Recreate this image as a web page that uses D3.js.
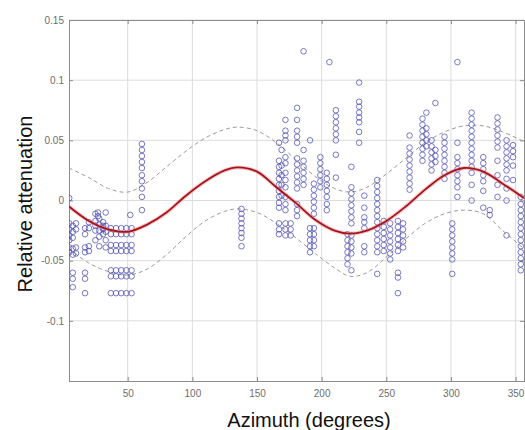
<!DOCTYPE html>
<html>
<head>
<meta charset="utf-8">
<script src="https://cdn.jsdelivr.net/npm/d3@7"></script>
<style>
  body { margin: 0; background: #fff; }
  svg { display: block; font-family: "Liberation Sans", Arial, sans-serif; }
</style>
</head>
<body>
<div id="chart-area"></div>
<script>
// Tick values and labels
const xTicks = [50, 100, 150, 200, 250, 300, 350];
const yTicks = [0.15, 0.1, 0.05, 0, -0.05, -0.1];
const yTickLabels = ['0.15', '0.1', '0.05', '0', '-0.05', '-0.1'];

// Measured points, stacked by azimuth column
const pointAz = [4.8, 7.5, 10, 17, 20, 25, 27, 28, 31, 33, 37, 41, 45, 49, 52, 53, 61,
  138, 167, 169, 172, 176, 181, 186, 191, 194, 199, 204, 206, 211, 220,
  223, 229, 233, 243, 248, 253, 259, 263, 268, 278, 281, 285, 288, 295, 301, 305,
  316, 325, 330, 336, 343, 348, 354];
const pointVals = [
  [0.002, -0.019, -0.024, -0.029, -0.033, -0.039, -0.043],
  [-0.021, -0.026, -0.031, -0.040, -0.045, -0.060, -0.065, -0.072],
  [-0.019, -0.024, -0.039, -0.044],
  [-0.023, -0.028, -0.039, -0.043, -0.060, -0.065, -0.077],
  [-0.018, -0.023, -0.038, -0.042],
  [-0.011, -0.017, -0.021, -0.025, -0.033],
  [-0.010, -0.013],
  [-0.015, -0.020, -0.025, -0.030, -0.038],
  [-0.018, -0.021, -0.023, -0.024, -0.028],
  [-0.010, -0.021, -0.026, -0.033, -0.039],
  [-0.023, -0.028, -0.037, -0.042, -0.058, -0.063, -0.077],
  [-0.023, -0.028, -0.037, -0.042, -0.058, -0.063, -0.077],
  [-0.023, -0.028, -0.037, -0.042, -0.058, -0.063, -0.077],
  [-0.023, -0.028, -0.037, -0.042, -0.058, -0.063, -0.077],
  [-0.012],
  [-0.023, -0.028, -0.037, -0.042, -0.058, -0.063, -0.077],
  [0.047, 0.042, 0.037, 0.032, 0.027, 0.021, 0.016, 0.010, 0.003, -0.008],
  [-0.007, -0.011, -0.015, -0.019, -0.023, -0.027, -0.031, -0.038],
  [0.048, 0.033, 0.028, 0.023, 0.018, 0.013, 0.008, 0.003, -0.002, -0.006, -0.019, -0.024, -0.028],
  [0.042, 0.029, 0.021, 0.013, 0.004],
  [0.067, 0.058, 0.054, 0.050, 0.036, 0.031, 0.023, 0.017, 0.011, 0.003, -0.003, -0.008, -0.019, -0.024, -0.029],
  [-0.019, -0.024, -0.029],
  [0.077, 0.067, 0.058, 0.053, 0.048, 0.035, 0.030, 0.025, 0.020, 0.015, 0.010, -0.003, -0.008, -0.013],
  [0.124, 0.042, 0.033, 0.028, 0.023, 0.018, 0.013],
  [0.050, -0.023, -0.028, -0.033, -0.038, -0.043],
  [0.014, 0.009, 0.004, -0.001, -0.006, -0.011, -0.023, -0.028, -0.033, -0.038],
  [0.036, 0.031, 0.026, 0.021, 0.016, 0.011],
  [0.023, 0.018, 0.013, 0.008, 0.003, -0.003, -0.008],
  [0.115],
  [0.075, 0.070, 0.065, 0.060, 0.055, 0.050, 0.038, 0.019],
  [-0.028, -0.033, -0.038, -0.043, -0.048, -0.053],
  [0.028, 0.011, 0.006, 0.001, -0.004, -0.009, -0.014, -0.019, -0.029, -0.034, -0.039, -0.044, -0.058],
  [0.098, 0.082, 0.078, 0.073, 0.069, 0.065, 0.057, 0.048],
  [0.004, -0.006, -0.014, -0.018, -0.023, -0.038, -0.043],
  [0.017, 0.012, 0.007, 0.002, -0.003, -0.008, -0.013, -0.018, -0.023, -0.028, -0.033, -0.038, -0.043, -0.061],
  [-0.017, -0.022, -0.027, -0.032, -0.037, -0.042],
  [-0.019, -0.024, -0.029, -0.034, -0.039, -0.044, -0.049],
  [-0.017, -0.022, -0.027, -0.032, -0.037, -0.042, -0.060, -0.064, -0.077],
  [-0.019, -0.024, -0.029, -0.034, -0.039],
  [0.054, 0.044, 0.039, 0.034, 0.029, 0.024, 0.019, 0.014, 0.009],
  [0.068, 0.063, 0.058, 0.053, 0.048, 0.043, 0.038, 0.033],
  [0.073, 0.060, 0.055, 0.050, 0.045],
  [0.050, 0.045, 0.040, 0.035, 0.030, 0.025],
  [0.081, 0.042, 0.037, 0.032],
  [0.053, 0.048, 0.043, 0.038, 0.033, 0.028, 0.023, 0.018],
  [-0.019, -0.024, -0.029, -0.034, -0.039, -0.044, -0.049, -0.061],
  [0.115, 0.048, 0.036, 0.031, 0.026, 0.021, 0.016, 0.011, 0.003],
  [0.073, 0.068, 0.063, 0.058, 0.053, 0.048, 0.043, 0.038, 0.033, 0.028, 0.023, 0.013, 0.000],
  [0.036, 0.031, 0.026, 0.021, 0.016, 0.008, -0.006],
  [-0.008, -0.012],
  [0.069, 0.064, 0.059, 0.054, 0.049, 0.044, 0.033, 0.021, 0.013, 0.003],
  [0.050, 0.045, 0.040, 0.035, 0.030, 0.025, 0.018, 0.010, 0.000, -0.029],
  [0.046, 0.041, 0.036, 0.029, 0.017],
  [0.003, -0.003, -0.008, -0.013, -0.018, -0.023, -0.028, -0.033, -0.038, -0.043, -0.048, -0.053, -0.058]
];

// Fitted curve and its bounds, read at these azimuths
const bandAz = [4.6, 20, 35, 50, 65, 80, 95, 110, 125, 135, 150, 165, 180, 195, 210, 222,
  235, 250, 265, 280, 295, 310, 325, 340, 356.5];
const fitVals = [-0.005, -0.017, -0.024, -0.026, -0.020, -0.010, 0.004, 0.016, 0.025, 0.0275,
  0.024, 0.011, -0.002, -0.016, -0.025, -0.0275, -0.025, -0.017, -0.005, 0.009, 0.021,
  0.027, 0.024, 0.014, 0.002];
const upperVals = [0.027, 0.019, 0.010, 0.007, 0.015, 0.028, 0.041, 0.052, 0.059, 0.061,
  0.058, 0.048, 0.034, 0.020, 0.010, 0.007, 0.011, 0.022, 0.035, 0.048, 0.057, 0.062,
  0.062, 0.057, 0.049];
const lowerVals = [-0.040, -0.052, -0.059, -0.062, -0.057, -0.045, -0.030, -0.017, -0.009,
  -0.007, -0.010, -0.019, -0.031, -0.044, -0.056, -0.063, -0.060, -0.047, -0.032, -0.019,
  -0.011, -0.008, -0.011, -0.025, -0.040];

// Margins
const margin = { left: 69, right: 1, top: 20, bottom: 49 };
const width = 525 - margin.left - margin.right;
const height = 430 - margin.top - margin.bottom;

const svg = d3.select('#chart-area')
    .append('svg')
    .attr('width', 525)
    .attr('height', 430);

const g = svg.append('g')
    .attr('transform', 'translate(' + margin.left + ', ' + margin.top + ')');

// Scales
const x = d3.scaleLinear()
    .domain([4.6, 356.5])
    .range([0, width]);

const y = d3.scaleLinear()
    .domain([-0.15, 0.15])
    .range([height, 0]);

g.append('clipPath')
    .attr('id', 'plot-clip')
    .append('rect')
    .attr('width', width)
    .attr('height', height);

// Grid
g.append('g').selectAll('line')
    .data(xTicks)
    .enter().append('line')
    .attr('x1', (d) => x(d)).attr('x2', (d) => x(d))
    .attr('y1', 0).attr('y2', height)
    .attr('stroke', '#dcdcdc');

g.append('g').selectAll('line')
    .data(yTicks)
    .enter().append('line')
    .attr('x1', 0).attr('x2', width)
    .attr('y1', (d) => y(d)).attr('y2', (d) => y(d))
    .attr('stroke', '#dcdcdc');

// Axes
const xAxisCall = d3.axisBottom(x)
    .tickValues(xTicks)
    .tickSize(-4)
    .tickPadding(9)
    .tickFormat(d3.format('d'));
const xAxis = g.append('g')
    .attr('transform', 'translate(0, ' + height + ')')
    .call(xAxisCall);

const yAxisCall = d3.axisLeft(y)
    .tickValues(yTicks)
    .tickSize(-4)
    .tickPadding(5)
    .tickFormat((d, i) => yTickLabels[i]);
const yAxis = g.append('g').call(yAxisCall);

const topAxis = g.append('g')
    .call(d3.axisTop(x).tickValues(xTicks).tickSize(-4).tickFormat(''));
const rightAxis = g.append('g')
    .attr('transform', 'translate(' + width + ', 0)')
    .call(d3.axisRight(y).tickValues(yTicks).tickSize(-4).tickFormat(''));

[xAxis, yAxis, topAxis, rightAxis].forEach((a) => {
    a.select('.domain').attr('stroke', '#8c8c8c');
    a.selectAll('.tick line').attr('stroke', '#8c8c8c');
    a.selectAll('text')
        .attr('fill', '#6e6e6e')
        .attr('font-size', '10px')
        .attr('font-family', '"Liberation Sans", Arial, sans-serif');
});

const plot = g.append('g').attr('clip-path', 'url(#plot-clip)');

// Bound curves
const bandLine = (vals) => d3.line()
    .x((d) => x(d))
    .y((d, i) => y(vals[i]))
    .curve(d3.curveCatmullRom)(bandAz);

[upperVals, lowerVals].forEach((vals) => {
    plot.append('path')
        .attr('d', bandLine(vals))
        .attr('fill', 'none')
        .attr('stroke', '#9c9c9c')
        .attr('stroke-width', 1)
        .attr('stroke-dasharray', '4,3');
});

// Points
const points = pointAz.flatMap((az, i) => pointVals[i].map((v) => ({ az: az, v: v })));

plot.append('g').selectAll('circle')
    .data(points)
    .enter().append('circle')
    .attr('cx', (d) => x(d.az))
    .attr('cy', (d) => y(d.v))
    .attr('r', 2.8)
    .attr('fill', 'none')
    .attr('stroke', '#4646b0')
    .attr('stroke-opacity', 0.8)
    .attr('stroke-width', 0.9);

// Fitted curve
plot.append('path')
    .attr('d', bandLine(fitVals))
    .attr('fill', 'none')
    .attr('stroke', '#e88a90')
    .attr('stroke-opacity', 0.45)
    .attr('stroke-width', 4);
plot.append('path')
    .attr('d', bandLine(fitVals))
    .attr('fill', 'none')
    .attr('stroke', '#a8141c')
    .attr('stroke-width', 1.8);

// Labels
svg.append('text')
    .attr('x', 309)
    .attr('y', 427)
    .attr('font-size', '20px')
    .attr('text-anchor', 'middle')
    .attr('fill', '#111')
    .text('Azimuth (degrees)');

svg.append('text')
    .attr('transform', 'translate(32, 204) rotate(-90)')
    .attr('font-size', '20px')
    .attr('text-anchor', 'middle')
    .attr('fill', '#111')
    .text('Relative attenuation');
</script>
</body>
</html>
